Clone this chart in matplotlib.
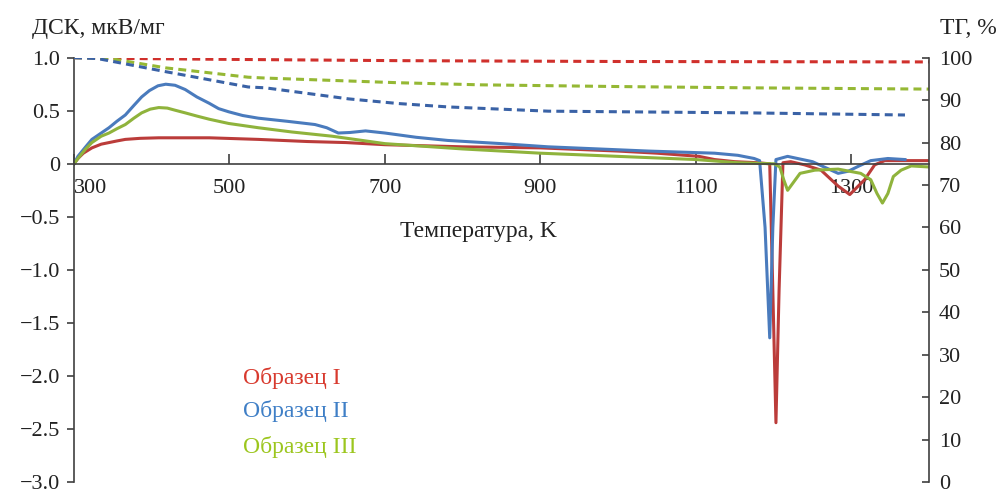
import matplotlib.pyplot as plt

plt.rcParams['font.family'] = ['Liberation Serif', 'DejaVu Serif']

# DSC, solid lines (left axis)
t_red = [300, 305, 312, 323, 335, 345, 355, 366, 385, 409, 474, 537, 600, 650, 700, 800, 900, 1000, 1050,
         1104, 1124, 1150, 1180, 1195, 1199, 1203, 1207, 1212, 1222, 1240, 1261, 1283, 1298, 1317, 1330,
         1343, 1400]
dsc_red = [0, 0.05, 0.1, 0.15, 0.185, 0.2, 0.215, 0.23, 0.24, 0.245, 0.245, 0.23, 0.21, 0.2, 0.18, 0.16, 0.15,
           0.12, 0.1, 0.07, 0.04, 0.02, 0.01, 0.0, -1.2, -2.44, -1.2, 0.01, 0.02, -0.01, -0.06, -0.21, -0.29,
           -0.15, -0.01, 0.03, 0.03]

t_blue = [300, 305, 315, 323, 335, 345, 355, 366, 377, 387, 397, 408, 418, 430, 443, 458, 474, 486, 499, 517,
          537, 575, 610, 625, 640, 655, 675, 700, 740, 781, 850, 910, 1039, 1124, 1154, 1175, 1182, 1189,
          1195, 1199, 1203, 1218, 1250, 1283, 1296, 1310, 1325, 1347, 1369]
dsc_blue = [0, 0.07, 0.16, 0.23, 0.29, 0.34, 0.40, 0.46, 0.55, 0.63, 0.69, 0.735, 0.75, 0.74, 0.70, 0.63, 0.57,
            0.52, 0.49, 0.455, 0.43, 0.40, 0.37, 0.34, 0.29, 0.295, 0.31, 0.29, 0.25, 0.22, 0.19, 0.16, 0.12,
            0.1, 0.08, 0.05, 0.03, -0.6, -1.64, -0.6, 0.04, 0.07, 0.02, -0.09, -0.07, -0.02, 0.03, 0.05, 0.04]

t_green = [300, 305, 315, 323, 335, 345, 355, 366, 377, 387, 398, 409, 420, 430, 443, 458, 474, 499, 537, 580,
           632, 700, 800, 900, 1000, 1100, 1154, 1201, 1208, 1213, 1218, 1225, 1234, 1253, 1283, 1312, 1325,
           1333, 1340, 1347, 1354, 1364, 1377, 1400]
dsc_green = [0, 0.05, 0.14, 0.2, 0.26, 0.29, 0.33, 0.37, 0.43, 0.48, 0.515, 0.53, 0.525, 0.505, 0.48, 0.45,
             0.42, 0.38, 0.34, 0.30, 0.26, 0.19, 0.14, 0.1, 0.07, 0.04, 0.01, 0.0, -0.03, -0.15, -0.25, -0.18,
             -0.09, -0.06, -0.05, -0.09, -0.15, -0.28, -0.37, -0.28, -0.12, -0.06, -0.02, -0.03]

# TG, dashed lines (right axis)
tg_t_red = [300, 375, 500, 717, 1000, 1400]
tg_red = [100, 99.8, 99.6, 99.3, 99.1, 99.0]

tg_t_blue = [300, 330, 353, 418, 524, 546, 653, 717, 781, 910, 1039, 1167, 1369]
tg_blue = [100, 99.8, 99.0, 96.7, 93.1, 92.9, 90.3, 89.2, 88.4, 87.4, 87.2, 87.0, 86.5]

tg_t_green = [300, 330, 353, 418, 524, 546, 717, 824, 1000, 1167, 1400]
tg_green = [100, 99.9, 99.6, 97.6, 95.4, 95.2, 94.1, 93.6, 93.2, 92.9, 92.6]

xticks = [300, 500, 700, 900, 1100, 1300]
c_red, c_blue, c_green = '#bb3c3a', '#4a7bbd', '#8fb33c'

fig = plt.figure(figsize=(10.03, 4.93), dpi=100)
ax = fig.add_axes([0.0738, 0.022, 0.8525, 0.861])
ax2 = ax.twinx()

ax.plot(t_red, dsc_red, color=c_red, lw=2.2)
ax.plot(t_blue, dsc_blue, color=c_blue, lw=2.2)
ax.plot(t_green, dsc_green, color=c_green, lw=2.2)

ax2.plot(tg_t_red, tg_red, color='#d0302c', lw=2.2, dashes=(2.6, 1.7))
ax2.plot(tg_t_green, tg_green, color='#95b834', lw=2.2, dashes=(2.6, 1.7))
ax2.plot(tg_t_blue, tg_blue, color='#3a62a6', lw=2.2, dashes=(2.6, 1.7))

ax.set_xlim(300, 1400)
ax.set_ylim(-3.0, 1.0)
ax2.set_ylim(0, 100)

spine_c = '#404040'
ax.spines['bottom'].set_position(('data', 0))
for a in (ax, ax2):
    a.spines['top'].set_visible(False)
ax2.spines['bottom'].set_visible(False)
ax2.spines['left'].set_visible(False)
ax.spines['right'].set_visible(False)
ax.spines['bottom'].set_color(spine_c)
ax.spines['left'].set_color(spine_c)
ax2.spines['right'].set_color(spine_c)
for s in ('bottom', 'left'):
    ax.spines[s].set_linewidth(1.2)
ax2.spines['right'].set_linewidth(1.2)

fs = 16
ax.set_xticks(xticks)
ax.set_xticklabels([str(v) for v in xticks])
ax.get_xticklabels()[0].set_horizontalalignment('left')
ax.tick_params(axis='x', direction='in', length=7, width=1.2, color=spine_c, pad=11, labelsize=fs,
               labelcolor='#222222')

ax.set_yticks([1.0, 0.5, 0, -0.5, -1.0, -1.5, -2.0, -2.5, -3.0])
ax.set_yticklabels(['1.0', '0.5', '0', '\u22120.5', '\u22121.0', '\u22121.5', '\u22122.0', '\u22122.5',
                    '\u22123.0'])
ax.tick_params(axis='y', direction='out', length=5, width=1.2, color=spine_c, pad=5, labelsize=fs,
               labelcolor='#222222')

ax2.set_yticks(range(0, 101, 10))
ax2.tick_params(axis='y', direction='in', length=5, width=1.2, color=spine_c, pad=7, labelsize=fs,
                labelcolor='#222222')

fig.text(0.032, 0.943, 'ДСК, мкВ/мг', fontsize=17, color='#222222', va='center')
fig.text(0.937, 0.943, 'ТГ, %', fontsize=17, color='#222222', va='center')
ax.text(820, -0.64, 'Температура, K', fontsize=17, color='#222222', ha='center', va='center')

ax.text(517, -2.02, 'Образец I', fontsize=17, color='#d83a2e', va='center')
ax.text(517, -2.33, 'Образец II', fontsize=17, color='#3f7fc6', va='center')
ax.text(517, -2.67, 'Образец III', fontsize=17, color='#9cc61e', va='center')

fig.savefig('out.png', dpi=100)
